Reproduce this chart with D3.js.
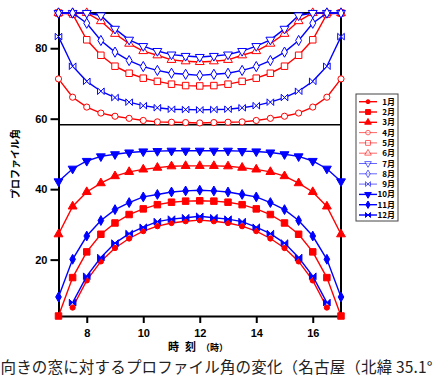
<!DOCTYPE html>
<html>
<head>
<meta charset="utf-8">
<script src="https://cdn.jsdelivr.net/npm/d3@7"></script>
<style>
  body { margin: 0; background: #fff; }
  svg { display: block; }
</style>
</head>
<body>
<div id="chart"></div>
<script>
var W = 433, H = 377;

// data
var hours = [7, 7.5, 8, 8.5, 9, 9.5, 10, 10.5, 11, 11.5, 12, 12.5, 13, 13.5, 14, 14.5, 15, 15.5, 16, 16.5, 17];
var months = ["1月","2月","3月","4月","5月","6月","7月","8月","9月","10月","11月","12月"];
var jan = [null, 6.4, 14.1, 19.5, 23.3, 26.0, 28.1, 29.5, 30.4, 30.9, 31.2, 30.9, 30.4, 29.5, 28.1, 26.0, 23.3, 19.5, 14.1, 6.4, null];
var feb = [4, 14.9, 22.2, 27.2, 30.4, 32.8, 34.4, 35.6, 36.3, 36.6, 36.7, 36.6, 36.3, 35.6, 34.4, 32.8, 30.4, 27.2, 22.2, 14.9, 4];
var mar = [27.2, 35.1, 39.2, 41.7, 43.7, 44.9, 45.6, 46.1, 46.5, 46.6, 46.6, 46.6, 46.5, 46.1, 45.6, 44.9, 43.7, 41.7, 39.2, 35.1, 27.2];
var apr = [71.3, 66.1, 63.3, 61.6, 60.7, 60.1, 59.5, 59.1, 59.0, 58.9, 58.8, 58.9, 59.0, 59.1, 59.5, 60.1, 60.7, 61.6, 63.3, 66.1, 71.3];
var may = [90, 89.7, 82.4, 78.0, 74.9, 72.9, 71.5, 70.6, 69.8, 69.4, 69.3, 69.4, 69.8, 70.6, 71.5, 72.9, 74.9, 78.0, 82.4, 89.7, 90];
var jun = [90, 90, 90, 87.7, 84.1, 81.3, 79.2, 78.0, 76.7, 76.3, 76.1, 76.3, 76.7, 78.0, 79.2, 81.3, 84.1, 87.7, 90, 90, 90];
var jul = [90, 90, 90, 89.3, 85.5, 82.4, 80.6, 79.2, 78.2, 77.8, 77.5, 77.8, 78.2, 79.2, 80.6, 82.4, 85.5, 89.3, 90, 90, 90];
var aug = [90, 90, 87.1, 82.2, 78.9, 76.5, 74.8, 73.7, 72.9, 72.6, 72.3, 72.6, 72.9, 73.7, 74.8, 76.5, 78.9, 82.2, 87.1, 90, 90];
var sep = [83.3, 74.9, 70.6, 67.8, 66.0, 64.7, 63.7, 63.1, 62.7, 62.6, 62.5, 62.6, 62.7, 63.1, 63.7, 64.7, 66.0, 67.8, 70.6, 74.9, 83.3];
var oct = [42.2, 45.8, 48.0, 49.3, 49.9, 50.4, 50.7, 50.8, 50.9, 50.9, 50.9, 50.9, 50.9, 50.8, 50.7, 50.4, 49.9, 49.3, 48.0, 45.8, 42.2];
var nov = [9.4, 20.1, 26.7, 31.1, 34.2, 36.2, 37.8, 38.5, 39.2, 39.5, 39.7, 39.5, 39.2, 38.5, 37.8, 36.2, 34.2, 31.1, 26.7, 20.1, 9.4];
var dec = [null, 7.8, 15.3, 20.6, 24.7, 27.4, 29.2, 30.8, 31.5, 31.9, 32.3, 31.9, 31.5, 30.8, 29.2, 27.4, 24.7, 20.6, 15.3, 7.8, null];
var xTicks = [8, 10, 12, 14, 16];
var yTicks = [20, 40, 60, 80];
var divider = 58.3;

var series = [jan, feb, mar, apr, may, jun, jul, aug, sep, oct, nov, dec];
var RED = "#ff0000", BLUE = "#0000ff";
var styles = [
  {c: RED, m: "circle", f: true, s: 22},
  {c: RED, m: "square", f: true, s: 42},
  {c: RED, m: "triangle", f: true, s: 34},
  {c: RED, m: "circle", f: false, s: 30},
  {c: RED, m: "square", f: false, s: 42},
  {c: RED, m: "triangle", f: false, s: 34},
  {c: BLUE, m: "tridown", f: false, s: 34},
  {c: BLUE, m: "diamond", f: false, s: 30},
  {c: BLUE, m: "bowtie", f: false, s: 3.3},
  {c: BLUE, m: "tridown", f: true, s: 34},
  {c: BLUE, m: "diamond", f: true, s: 28},
  {c: BLUE, m: "bowtie", f: true, s: 3.3}
];

var margin = {top: 13, left: 58.5, right: W - 341, bottom: H - 316};

var x = d3.scaleLinear().domain([7, 17]).range([margin.left, W - margin.right]);
var y = d3.scaleLinear().domain([4, 90]).range([H - margin.bottom, margin.top]);

var svg = d3.select("#chart").append("svg")
  .attr("width", W).attr("height", H);

var numFont = "'Liberation Sans', Arial, sans-serif";
var jpFont = "'Noto Sans CJK JP', sans-serif";

function markerPath(m, s) {
  if (m == "bowtie") {
    return "M" + (-s) + "," + (-s) + "L" + (-s) + "," + s + "L" + s + "," + (-s) + "L" + s + "," + s + "Z";
  }
  var t = {circle: d3.symbolCircle, square: d3.symbolSquare, triangle: d3.symbolTriangle,
           tridown: d3.symbolTriangle, diamond: d3.symbolDiamond}[m];
  return d3.symbol().type(t).size(s)();
}

function drawMarker(g, st, px, py, scale) {
  var p = g.append("path")
    .attr("d", markerPath(st.m, st.s * (st.m == "bowtie" ? scale : scale * scale)))
    .attr("fill", st.f ? st.c : "#fff")
    .attr("stroke", st.c)
    .attr("stroke-width", 1);
  var tr = "translate(" + px + "," + py + ")";
  if (st.m == "tridown") tr += " rotate(180)";
  p.attr("transform", tr);
}

// frame
svg.append("line").attr("x1", x(7)).attr("x2", x(17)).attr("y1", y(90)).attr("y2", y(90))
  .attr("stroke", "#000").attr("stroke-width", 2);
svg.append("line").attr("x1", x(17)).attr("x2", x(17)).attr("y1", y(90)).attr("y2", y(4))
  .attr("stroke", "#000").attr("stroke-width", 2);
svg.append("line").attr("x1", x(7)).attr("x2", x(17)).attr("y1", y(divider)).attr("y2", y(divider))
  .attr("stroke", "#000").attr("stroke-width", 1.5);

// axes
var gx = svg.append("g")
  .attr("transform", "translate(0," + y(4) + ")")
  .call(d3.axisBottom(x).tickValues(xTicks).tickSize(7).tickSizeOuter(0).tickPadding(6));
var gy = svg.append("g")
  .attr("transform", "translate(" + x(7) + ",0)")
  .call(d3.axisLeft(y).tickValues(yTicks).tickSize(8).tickSizeOuter(0).tickPadding(3));
[gx, gy].forEach(function(g) {
  g.select(".domain").attr("stroke-width", 2);
  g.selectAll(".tick line").attr("stroke-width", 2);
  g.selectAll("text").style("font-family", numFont).style("font-weight", "bold")
    .style("font-size", "11px").attr("fill", "#000");
});

// lines and markers
var line = d3.line()
  .defined(function(d) { return d[1] != null; })
  .x(function(d) { return x(d[0]); })
  .y(function(d) { return y(d[1]); });

series.forEach(function(vals, k) {
  var st = styles[k];
  var pts = hours.map(function(h, i) { return [h, vals[i]]; });
  var g = svg.append("g");
  g.append("path").datum(pts)
    .attr("d", line)
    .attr("fill", "none")
    .attr("stroke", st.c)
    .attr("stroke-width", 1.4);
  pts.forEach(function(p) {
    if (p[1] == null) return;
    drawMarker(g, st, x(p[0]), y(p[1]), 1);
  });
});

// legend
var lg = svg.append("g");
lg.append("rect").attr("x", 356).attr("y", 94).attr("width", 42).attr("height", 127)
  .attr("fill", "#fff").attr("stroke", "#444").attr("stroke-width", 1);
months.forEach(function(m, i) {
  var st = styles[i];
  var ly = 101.7 + i * 10.3;
  lg.append("line").attr("x1", 359).attr("x2", 377).attr("y1", ly).attr("y2", ly)
    .attr("stroke", st.c).attr("stroke-width", st.f ? 1.4 : 1).attr("opacity", st.f ? 1 : 0.6);
  var g = lg.append("g").attr("opacity", st.f ? 1 : 0.6);
  drawMarker(g, st, 368, ly, 0.75);
  lg.append("text").attr("x", 395).attr("y", ly + 3)
    .attr("text-anchor", "end")
    .style("font-family", jpFont).style("font-weight", "bold").style("font-size", "8px")
    .text(m);
});

// axis titles
svg.append("text")
  .attr("transform", "translate(19," + 164 + ") rotate(-90)")
  .attr("text-anchor", "middle")
  .style("font-family", jpFont).style("font-weight", "bold").style("font-size", "10px")
  .text("プロファイル角");

var xt = svg.append("text")
  .attr("y", 351)
  .style("font-family", jpFont).style("font-weight", "bold").style("font-size", "11px");
xt.append("tspan").attr("x", 168).text("時");
xt.append("tspan").attr("x", 185).text("刻");
xt.append("tspan").attr("x", 201).style("font-size", "9px").text("（時）");

// caption
svg.append("text")
  .attr("x", 0.5).attr("y", 372.5)
  .attr("textLength", 432).attr("lengthAdjust", "spacing")
  .style("font-family", jpFont).style("font-size", "15.5px").attr("fill", "#222")
  .text("向きの窓に対するプロファイル角の変化（名古屋（北緯 35.1°");
</script>
</body>
</html>
